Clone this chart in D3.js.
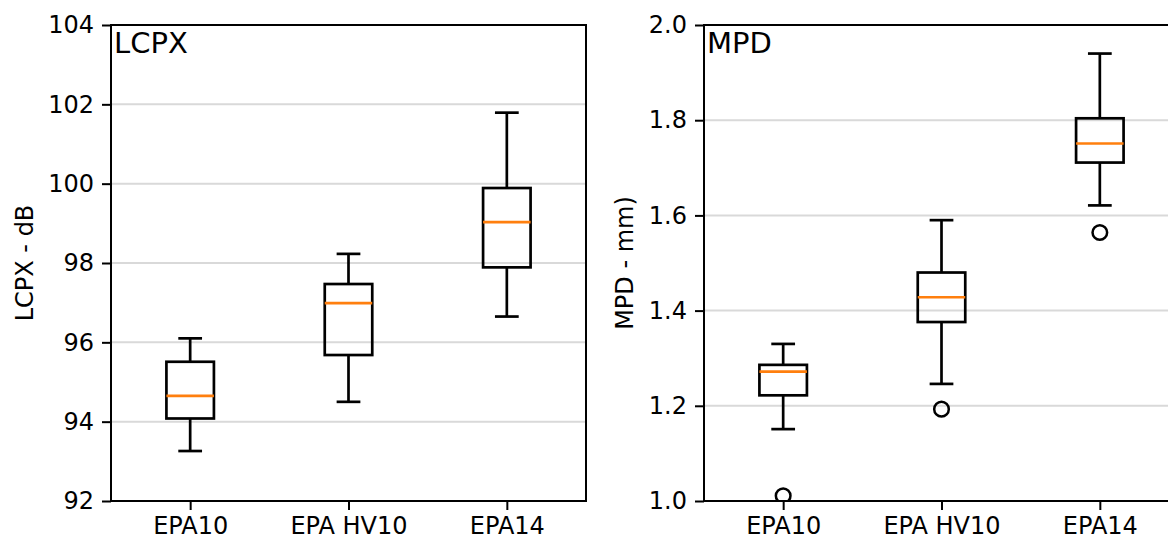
<!DOCTYPE html>
<html>
<head>
<meta charset="utf-8">
<script src="https://cdn.jsdelivr.net/npm/d3@7"></script>
<style>
body { margin: 0; background: #fff; overflow: hidden; }
svg { display: block; }
text { font-family: "DejaVu Sans", sans-serif; fill: #000; }
</style>
</head>
<body>
<div id="graph"></div>
<script>
var w = 1168, h = 540;

// box stats
var categories = ["EPA10", "EPA HV10", "EPA14"];

var lcpxLow = [93.26, 94.50, 96.65];
var lcpxQ1 = [94.08, 95.68, 97.89];
var lcpxMed = [94.65, 96.99, 99.03];
var lcpxQ3 = [95.51, 97.47, 99.89];
var lcpxHigh = [96.10, 98.23, 101.79];
var lcpxOut = [[], [], []];
var lcpxTicks = [92, 94, 96, 98, 100, 102, 104];

var mpdLow = [1.151, 1.246, 1.621];
var mpdQ1 = [1.222, 1.376, 1.711];
var mpdMed = [1.272, 1.428, 1.751];
var mpdQ3 = [1.286, 1.480, 1.804];
var mpdHigh = [1.330, 1.590, 1.940];
var mpdOut = [[1.011], [1.193], [1.564]];
var mpdTicks = [1.0, 1.2, 1.4, 1.6, 1.8, 2.0];

var svg = d3.select("#graph")
	.append("svg")
	.attr("width", w)
	.attr("height", h);

var mt = 25, ph = 476, pw = 475;

function panel(id, left, title, yDomain, ticks, fmt, low, q1, med, q3, high, outs) {
	var x = d3.scaleLinear().domain([0.5, 3.5]).range([0, pw]);
	var y = d3.scaleLinear().domain(yDomain).range([ph, 0]);
	var g = svg.append("g").attr("transform", "translate(" + left + "," + mt + ")");

	g.append("clipPath").attr("id", id)
		.append("rect").attr("width", pw).attr("height", ph);

	// grid
	g.selectAll(".grid").data(ticks).enter().append("line")
		.attr("x1", 0).attr("x2", pw)
		.attr("y1", d => y(d)).attr("y2", d => y(d))
		.attr("stroke", "#d9d9d9").attr("stroke-width", 2);

	var data = categories.map(function(c, i) {
		return {pos: i + 1, lo: low[i], q1: q1[i], med: med[i], q3: q3[i], hi: high[i], out: outs[i]};
	});
	var bw = x(1.15) - x(0.85), cw = x(1.075) - x(0.925);
	var boxes = g.append("g").attr("clip-path", "url(#" + id + ")")
		.selectAll("g").data(data).enter().append("g");

	boxes.append("line")
		.attr("x1", d => x(d.pos)).attr("x2", d => x(d.pos))
		.attr("y1", d => y(d.hi)).attr("y2", d => y(d.q3))
		.attr("stroke", "#000").attr("stroke-width", 2.7);
	boxes.append("line")
		.attr("x1", d => x(d.pos)).attr("x2", d => x(d.pos))
		.attr("y1", d => y(d.q1)).attr("y2", d => y(d.lo))
		.attr("stroke", "#000").attr("stroke-width", 2.7);
	boxes.append("line")
		.attr("x1", d => x(d.pos) - cw / 2).attr("x2", d => x(d.pos) + cw / 2)
		.attr("y1", d => y(d.hi)).attr("y2", d => y(d.hi))
		.attr("stroke", "#000").attr("stroke-width", 2.7);
	boxes.append("line")
		.attr("x1", d => x(d.pos) - cw / 2).attr("x2", d => x(d.pos) + cw / 2)
		.attr("y1", d => y(d.lo)).attr("y2", d => y(d.lo))
		.attr("stroke", "#000").attr("stroke-width", 2.7);
	boxes.append("rect")
		.attr("x", d => x(d.pos) - bw / 2).attr("width", bw)
		.attr("y", d => y(d.q3)).attr("height", d => y(d.q1) - y(d.q3))
		.attr("fill", "none").attr("stroke", "#000").attr("stroke-width", 2.7);
	boxes.append("line")
		.attr("x1", d => x(d.pos) - bw / 2).attr("x2", d => x(d.pos) + bw / 2)
		.attr("y1", d => y(d.med)).attr("y2", d => y(d.med))
		.attr("stroke", "#ff7f0e").attr("stroke-width", 2.7);
	boxes.selectAll("circle").data(d => d.out.map(v => ({pos: d.pos, v: v}))).enter()
		.append("circle")
		.attr("cx", d => x(d.pos)).attr("cy", d => y(d.v)).attr("r", 7.3)
		.attr("fill", "none").attr("stroke", "#000").attr("stroke-width", 2.5);

	// axes
	var ya = g.append("g").call(d3.axisLeft(y).tickValues(ticks).tickFormat(fmt).tickSize(9).tickPadding(8));
	var xa = g.append("g").attr("transform", "translate(0," + ph + ")")
		.call(d3.axisBottom(x).tickValues([1, 2, 3]).tickFormat((d, i) => categories[i]).tickSize(9).tickPadding(6));
	[ya, xa].forEach(function(a) {
		a.select(".domain").remove();
		a.selectAll("line").attr("stroke", "#000").attr("stroke-width", 2);
		a.selectAll("text").attr("font-size", 24).attr("font-family", "DejaVu Sans").attr("fill", "#000");
	});
	xa.selectAll("text").attr("dy", "0.75em");

	// spines
	var spines = [[0, 0, 0, ph], [0, ph, pw, ph], [0, 0, pw, 0], [pw, 0, pw, ph]];
	g.selectAll(".spine").data(spines).enter().append("line")
		.attr("x1", d => d[0]).attr("y1", d => d[1])
		.attr("x2", d => d[2]).attr("y2", d => d[3])
		.attr("stroke", "#000").attr("stroke-width", 2)
		.attr("stroke-linecap", "square");

	g.append("text").text(title)
		.attr("x", 3).attr("y", 28)
		.attr("font-size", 29);
}

panel("clipA", 111, "LCPX", [92, 104], lcpxTicks, d3.format("d"),
	lcpxLow, lcpxQ1, lcpxMed, lcpxQ3, lcpxHigh, lcpxOut);
panel("clipB", 704, "MPD", [1.0, 2.0], mpdTicks, d3.format(".1f"),
	mpdLow, mpdQ1, mpdMed, mpdQ3, mpdHigh, mpdOut);

svg.append("text").text("LCPX - dB")
	.attr("transform", "translate(33," + (mt + ph / 2) + ") rotate(-90)")
	.attr("text-anchor", "middle").attr("font-size", 24);
svg.append("text").text("MPD - mm)")
	.attr("transform", "translate(633," + (mt + ph / 2) + ") rotate(-90)")
	.attr("text-anchor", "middle").attr("font-size", 24);
</script>
</body>
</html>
